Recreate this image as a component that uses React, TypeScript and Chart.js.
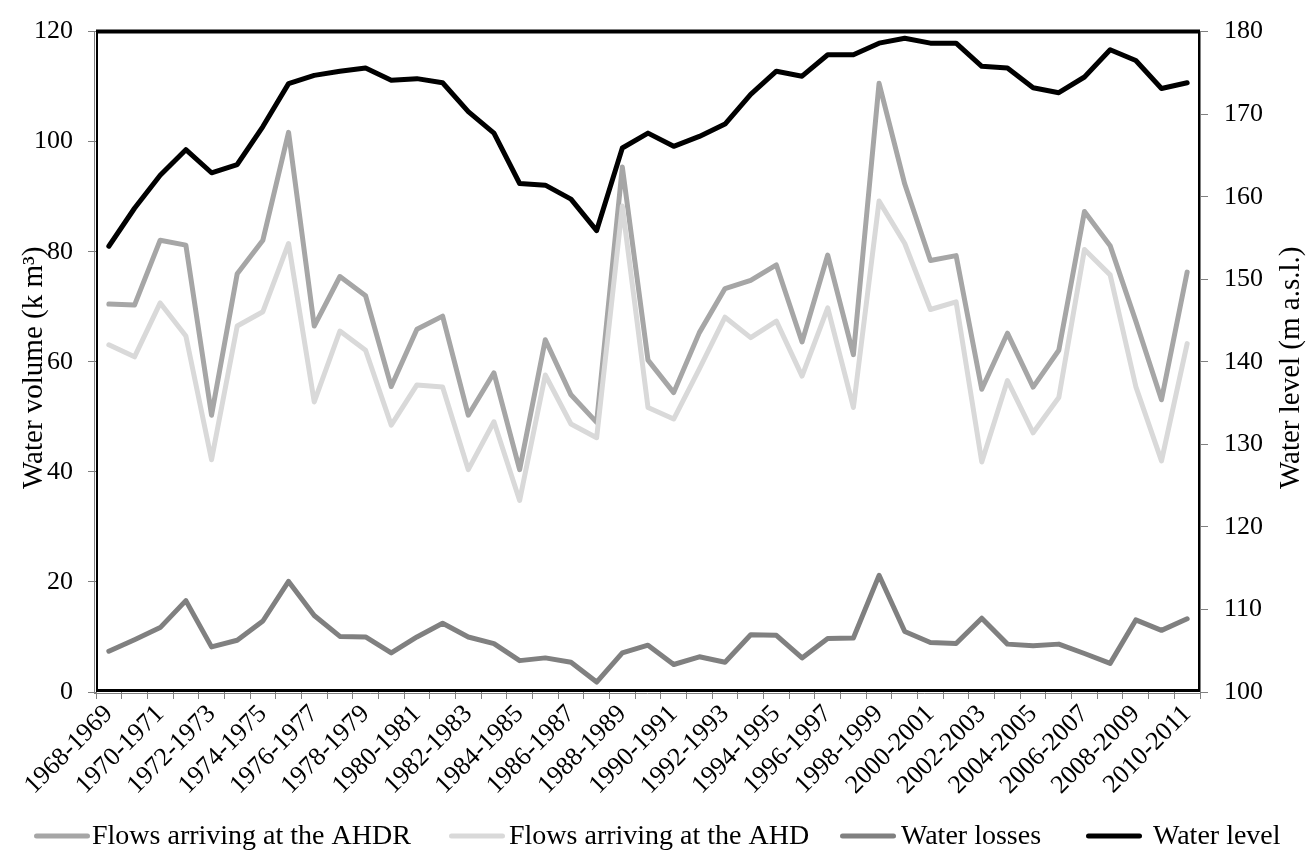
import React, { useEffect, useRef } from 'react';
import { Chart, registerables } from 'chart.js';

Chart.register(...registerables);

const seasons = [
  '1968-1969', '1969-1970', '1970-1971', '1971-1972', '1972-1973', '1973-1974', '1974-1975', '1975-1976',
  '1976-1977', '1977-1978', '1978-1979', '1979-1980', '1980-1981', '1981-1982', '1982-1983', '1983-1984',
  '1984-1985', '1985-1986', '1986-1987', '1987-1988', '1988-1989', '1989-1990', '1990-1991', '1991-1992',
  '1992-1993', '1993-1994', '1994-1995', '1995-1996', '1996-1997', '1997-1998', '1998-1999', '1999-2000',
  '2000-2001', '2001-2002', '2002-2003', '2003-2004', '2004-2005', '2005-2006', '2006-2007', '2007-2008',
  '2008-2009', '2009-2010', '2010-2011',
];

const flowsAHDR = [
  70.5, 70.3, 82.1, 81.2, 50.3, 76.0, 82.1, 101.7, 66.5, 75.5, 72.0, 55.5, 65.9, 68.3, 50.3, 58.0,
  40.4, 64.0, 54.0, 49.0, 95.4, 60.3, 54.4, 65.3, 73.3, 74.8, 77.6, 63.6, 79.4, 61.3, 110.6, 92.3,
  78.4, 79.3, 55.0, 65.2, 55.4, 62.1, 87.3, 81.1, 67.4, 53.1, 76.3,
];

const flowsAHD = [
  63.1, 60.9, 70.7, 64.7, 42.2, 66.5, 69.1, 81.5, 52.7, 65.6, 62.1, 48.5, 55.8, 55.4, 40.4, 49.1,
  34.8, 57.6, 48.7, 46.2, 88.3, 51.7, 49.6, 58.7, 68.1, 64.4, 67.4, 57.4, 69.8, 51.7, 89.2, 81.5,
  69.5, 70.9, 41.8, 56.6, 47.1, 53.5, 80.4, 75.8, 55.5, 42.0, 63.3,
];

const waterLosses = [
  7.4, 9.5, 11.7, 16.6, 8.2, 9.4, 12.9, 20.1, 13.9, 10.1, 10.0, 7.1, 10.0, 12.5, 10.0, 8.8,
  5.7, 6.2, 5.4, 1.8, 7.1, 8.5, 5.0, 6.4, 5.4, 10.4, 10.3, 6.2, 9.7, 9.8, 21.2, 11.0,
  9.0, 8.8, 13.4, 8.7, 8.4, 8.7, 7.0, 5.2, 13.1, 11.2, 13.3,
];

const waterLevel = [
  154.0, 158.6, 162.6, 165.7, 162.9, 163.9, 168.5, 173.7, 174.7, 175.2, 175.6, 174.1, 174.3, 173.8, 170.3, 167.7,
  161.6, 161.4, 159.7, 155.9, 165.9, 167.7, 166.1, 167.3, 168.8, 172.4, 175.2, 174.6, 177.2, 177.2, 178.6, 179.2,
  178.6, 178.6, 175.8, 175.6, 173.2, 172.6, 174.5, 177.8, 176.5, 173.1, 173.8,
];

const seriesNames = ['Flows arriving at the AHDR', 'Flows arriving at the AHD', 'Water losses', 'Water level'];
const seriesColors = ['#a6a6a6', '#d9d9d9', '#808080', '#000000'];

const leftTitle = 'Water volume (k m\u00B3)';
const rightTitle = 'Water level (m a.s.l.)';

const FONT = '"Liberation Serif", "Times New Roman", Times, serif';

const decorPlugin = {
  id: 'decor',
  afterDatasetsDraw(chart: any) {
    const { ctx, chartArea: a } = chart;
    ctx.save();
    ctx.strokeStyle = '#808080';
    ctx.lineWidth = 1;
    ctx.beginPath();
    ctx.moveTo(94.5, a.top);
    ctx.lineTo(94.5, a.bottom + 1);
    ctx.moveTo(a.left - 2, a.bottom + 1.5);
    ctx.lineTo(a.right + 1, a.bottom + 1.5);
    ctx.moveTo(a.right + 0.5, a.top);
    ctx.lineTo(a.right + 0.5, a.bottom + 1);
    ctx.stroke();
    ctx.strokeStyle = '#000';
    ctx.lineWidth = 2;
    ctx.beginPath();
    ctx.moveTo(a.left + 1, a.top);
    ctx.lineTo(a.left + 1, a.bottom);
    ctx.moveTo(a.right - 1, a.top);
    ctx.lineTo(a.right - 1, a.bottom);
    ctx.stroke();
    ctx.lineWidth = 4;
    ctx.beginPath();
    ctx.moveTo(a.left, a.top);
    ctx.lineTo(a.right, a.top);
    ctx.stroke();
    ctx.lineWidth = 3;
    ctx.beginPath();
    ctx.moveTo(a.left, a.bottom - 1.5);
    ctx.lineTo(a.right, a.bottom - 1.5);
    ctx.stroke();
    ctx.restore();
  },
  afterDraw(chart: any) {
    const { ctx, chartArea: a } = chart;
    const cy = (a.top + a.bottom) / 2 + 6;
    ctx.save();
    ctx.fillStyle = '#000';
    ctx.font = `29px ${FONT}`;
    ctx.textAlign = 'center';
    ctx.textBaseline = 'alphabetic';
    ctx.save();
    ctx.translate(42, cy);
    ctx.rotate(-Math.PI / 2);
    ctx.fillText(leftTitle, 0, 0);
    ctx.restore();
    ctx.save();
    ctx.translate(1299, cy);
    ctx.rotate(-Math.PI / 2);
    ctx.fillText(rightTitle, 0, 0);
    ctx.restore();

    const starts = [34, 449, 840, 1086];
    const gaps = [2, 4, 5, 11];
    const lineLen = 56;
    const lineY = 836;
    const baseY = 844;
    ctx.font = `28px ${FONT}`;
    ctx.textAlign = 'left';
    chart.data.datasets.forEach((ds: any, i: number) => {
      const x0 = starts[i];
      ctx.strokeStyle = ds.borderColor;
      ctx.lineWidth = 5;
      ctx.lineCap = 'round';
      ctx.beginPath();
      ctx.moveTo(x0 + 2.5, lineY);
      ctx.lineTo(x0 + lineLen - 2.5, lineY);
      ctx.stroke();
      ctx.fillStyle = '#000';
      ctx.fillText(ds.label, x0 + lineLen + gaps[i], baseY);
    });
    ctx.restore();
  },
};

export default function App() {
  const ref = useRef<HTMLCanvasElement | null>(null);

  useEffect(() => {
    document.body.style.margin = '0';
    const canvas = ref.current;
    if (!canvas) return;
    const mk = (i: number, data: number[], axis: string) => ({
      label: seriesNames[i],
      data,
      borderColor: seriesColors[i],
      backgroundColor: seriesColors[i],
      borderWidth: 5,
      pointRadius: 0,
      pointHoverRadius: 0,
      tension: 0,
      fill: false,
      borderJoinStyle: 'round' as const,
      borderCapStyle: 'round' as const,
      yAxisID: axis,
      order: 4 - i,
    });
    const tickFont = { family: FONT, size: 26 };
    const chart = new Chart(canvas, {
      type: 'line',
      data: {
        labels: seasons,
        datasets: [
          mk(0, flowsAHDR, 'y'),
          mk(1, flowsAHD, 'y'),
          mk(2, waterLosses, 'y'),
          mk(3, waterLevel, 'y1'),
        ],
      },
      options: {
        responsive: false,
        animation: false,
        devicePixelRatio: 1,
        events: [],
        layout: { padding: { top: 19, left: 0, right: 0, bottom: 0 } },
        plugins: {
          legend: { display: false },
          tooltip: { enabled: false },
          title: { display: false },
        },
        scales: {
          x: {
            type: 'category',
            offset: true,
            border: { display: false },
            grid: {
              display: true,
              offset: true,
              drawOnChartArea: false,
              drawTicks: true,
              tickLength: 7,
              color: '#808080',
              lineWidth: 1,
            },
            ticks: {
              autoSkip: false,
              minRotation: 45,
              maxRotation: 45,
              padding: 0,
              color: '#000',
              font: tickFont,
              callback: (_v: any, i: number) => (i % 2 === 0 ? seasons[i] : ''),
            },
            afterFit: (s: any) => {
              s.height = 162;
            },
          },
          y: {
            position: 'left',
            min: 0,
            max: 120,
            border: { display: false },
            grid: { drawOnChartArea: false, drawTicks: true, tickLength: 8, color: '#808080' },
            ticks: { stepSize: 20, padding: 15, color: '#000', font: tickFont },
            afterFit: (s: any) => {
              s.width = 96;
            },
          },
          y1: {
            position: 'right',
            min: 100,
            max: 180,
            border: { display: false },
            grid: { drawOnChartArea: false, drawTicks: true, tickLength: 8, color: '#808080' },
            ticks: { stepSize: 10, padding: 16, color: '#000', font: tickFont },
            afterFit: (s: any) => {
              s.width = 111;
            },
          },
        },
      },
      plugins: [decorPlugin],
    });
    return () => chart.destroy();
  }, []);

  return <canvas ref={ref} width={1311} height={854} style={{ display: 'block' }} />;
}
